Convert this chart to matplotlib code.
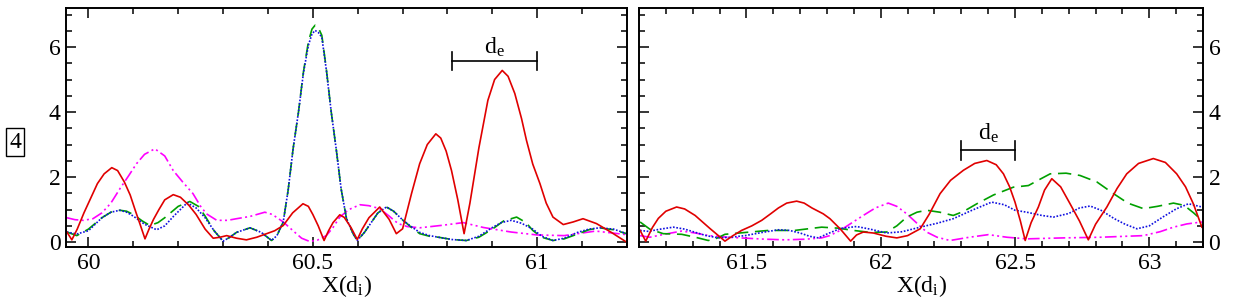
import matplotlib
matplotlib.use("Agg")
import matplotlib.pyplot as plt
from matplotlib.ticker import MultipleLocator, FuncFormatter

plt.rcParams['font.family'] = ['Liberation Serif', 'DejaVu Serif']
plt.rcParams['mathtext.fontset'] = 'custom'
plt.rcParams['mathtext.rm'] = 'Liberation Serif'
plt.rcParams['mathtext.it'] = 'Liberation Serif:italic'

# ---- left panel data ----
red_l_x = [59.952, 59.963, 59.975, 59.99, 60.005, 60.02, 60.035, 60.052, 60.065, 60.08,
           60.093, 60.105, 60.115, 60.126, 60.135, 60.145, 60.157, 60.17, 60.189, 60.205,
           60.224, 60.24, 60.26, 60.278, 60.293, 60.308, 60.33, 60.352, 60.375, 60.397,
           60.415, 60.434, 60.455, 60.478, 60.49, 60.50, 60.512, 60.525, 60.535, 60.545,
           60.56, 60.57, 60.585, 60.599, 60.61, 60.625, 60.649, 60.67, 60.686, 60.70,
           60.72, 60.738, 60.755, 60.774, 60.785, 60.797, 60.809, 60.823, 60.837, 60.85,
           60.87, 60.89, 60.905, 60.922, 60.935, 60.95, 60.965, 60.976, 60.99, 61.006,
           61.02, 61.035, 61.058, 61.08, 61.102, 61.132, 61.165, 61.199]
red_l_y = [0.31, 0.07, 0.4, 0.9, 1.35, 1.8, 2.1, 2.29, 2.2, 1.85,
           1.45, 0.95, 0.55, 0.1, 0.4, 0.7, 1.0, 1.3, 1.46, 1.38,
           1.13, 0.85, 0.4, 0.12, 0.15, 0.2, 0.12, 0.07, 0.15, 0.26,
           0.35, 0.51, 0.9, 1.18, 1.1, 0.85, 0.5, 0.05, 0.35, 0.6,
           0.84, 0.76, 0.45, 0.08, 0.4, 0.75, 1.08, 0.7, 0.26, 0.41,
           1.5, 2.41, 3.0, 3.33, 3.2, 2.8, 2.2, 1.3, 0.26, 1.2,
           2.9, 4.36, 5.0, 5.28, 5.1, 4.57, 3.8, 3.13, 2.4, 1.8,
           1.2, 0.77, 0.54, 0.62, 0.72, 0.57, 0.3, 0.0]

green_l_x = [59.952, 59.974, 60.0, 60.03, 60.05, 60.07, 60.085, 60.1, 60.12, 60.137,
             60.155, 60.17, 60.2, 60.226, 60.245, 60.26, 60.28, 60.30, 60.315, 60.33,
             60.36, 60.385, 60.408, 60.42, 60.434, 60.445, 60.456, 60.468, 60.479, 60.49,
             60.498, 60.505, 60.512, 60.52, 60.53, 60.541, 60.552, 60.563, 60.575, 60.59,
             60.599, 60.615, 60.63, 60.645, 60.664, 60.68, 60.701, 60.72, 60.738, 60.76,
             60.78, 60.81, 60.842, 60.87, 60.9, 60.925, 60.954, 60.975, 60.99, 61.01,
             61.035, 61.06, 61.09, 61.115, 61.139, 61.17, 61.199]
green_l_y = [0.31, 0.2, 0.4, 0.75, 0.92, 0.98, 0.95, 0.85, 0.65, 0.51,
             0.6, 0.75, 1.1, 1.25, 1.1, 0.8, 0.35, 0.03, 0.15, 0.3,
             0.44, 0.3, 0.05, 0.2, 0.62, 1.6, 2.87, 4.0, 5.23, 6.15,
             6.55, 6.67, 6.6, 6.36, 5.33, 4.0, 2.87, 1.64, 0.72, 0.25,
             0.05, 0.3, 0.6, 0.9, 1.08, 0.95, 0.67, 0.45, 0.26, 0.18,
             0.15, 0.08, 0.05, 0.15, 0.4, 0.65, 0.77, 0.6, 0.36, 0.15,
             0.05, 0.1, 0.25, 0.38, 0.44, 0.38, 0.26]

blue_l_x = [59.952, 59.974, 60.0, 60.03, 60.05, 60.07, 60.085, 60.1, 60.125, 60.152,
            60.17, 60.19, 60.22, 60.24, 60.26, 60.28, 60.30, 60.315, 60.33, 60.36,
            60.385, 60.408, 60.42, 60.434, 60.445, 60.456, 60.468, 60.479, 60.49, 60.498,
            60.505, 60.512, 60.52, 60.53, 60.541, 60.552, 60.563, 60.575, 60.59, 60.599,
            60.615, 60.63, 60.645, 60.664, 60.68, 60.701, 60.72, 60.738, 60.76, 60.78,
            60.81, 60.842, 60.87, 60.9, 60.92, 60.942, 60.965, 60.99, 61.01, 61.035,
            61.06, 61.09, 61.115, 61.139, 61.17, 61.199]
blue_l_y = [0.31, 0.25, 0.35, 0.75, 0.92, 0.98, 0.92, 0.8, 0.55, 0.38,
            0.5, 0.8, 1.21, 1.05, 0.75, 0.35, 0.03, 0.15, 0.3, 0.44,
            0.3, 0.05, 0.2, 0.62, 1.6, 2.87, 4.0, 5.2, 6.05, 6.4,
            6.51, 6.45, 6.3, 5.3, 4.0, 2.87, 1.64, 0.72, 0.25, 0.05,
            0.3, 0.6, 0.9, 1.08, 0.95, 0.67, 0.47, 0.3, 0.2, 0.15,
            0.08, 0.05, 0.18, 0.45, 0.6, 0.67, 0.58, 0.4, 0.18, 0.05,
            0.12, 0.3, 0.4, 0.44, 0.4, 0.26]

mag_l_x = [59.952, 59.97, 59.989, 60.01, 60.03, 60.05, 60.07, 60.09, 60.107, 60.125,
           60.148, 60.17, 60.189, 60.21, 60.233, 60.25, 60.263, 60.286, 60.31, 60.33,
           60.36, 60.393, 60.41, 60.434, 60.46, 60.475, 60.493, 60.51, 60.53, 60.545,
           60.56, 60.58, 60.605, 60.625, 60.649, 60.67, 60.69, 60.71, 60.738, 60.79,
           60.835, 60.88, 60.942, 61.0, 61.06, 61.13, 61.199]
mag_l_y = [0.75, 0.69, 0.67, 0.72, 0.9, 1.2, 1.64, 2.05, 2.41, 2.7,
           2.87, 2.65, 2.2, 1.85, 1.49, 1.1, 0.87, 0.67, 0.67, 0.72,
           0.79, 0.92, 0.85, 0.62, 0.3, 0.12, 0.02, 0.06, 0.2, 0.45,
           0.77, 1.0, 1.15, 1.12, 1.03, 0.8, 0.57, 0.48, 0.44, 0.52,
           0.6, 0.45, 0.31, 0.22, 0.2, 0.34, 0.23]

# ---- right panel data ----
red_r_x = [61.104, 61.125, 61.15, 61.172, 61.2, 61.24, 61.27, 61.309, 61.364, 61.42,
           61.45, 61.482, 61.52, 61.557, 61.59, 61.619, 61.65, 61.687, 61.715, 61.744,
           61.786, 61.811, 61.85, 61.888, 61.91, 61.935, 61.973, 62.02, 62.06, 62.1,
           62.147, 62.18, 62.221, 62.26, 62.308, 62.35, 62.395, 62.43, 62.457, 62.48,
           62.5, 62.52, 62.538, 62.56, 62.587, 62.61, 62.637, 62.67, 62.705, 62.74,
           62.773, 62.8, 62.842, 62.88, 62.916, 62.96, 63.015, 63.06, 63.102, 63.135,
           63.164, 63.196]
red_r_y = [0.36, 0.03, 0.45, 0.73, 0.95, 1.08, 1.02, 0.82, 0.42, 0.03,
           0.2, 0.36, 0.5, 0.67, 0.87, 1.05, 1.2, 1.26, 1.2, 1.05,
           0.87, 0.72, 0.4, 0.03, 0.22, 0.31, 0.28, 0.18, 0.13, 0.2,
           0.41, 0.85, 1.49, 1.9, 2.21, 2.42, 2.51, 2.38, 2.1, 1.7,
           1.23, 0.65, 0.05, 0.6, 1.08, 1.6, 1.95, 1.7, 1.18, 0.65,
           0.07, 0.55, 1.08, 1.65, 2.1, 2.42, 2.57, 2.45, 2.1, 1.7,
           1.18, 0.46]

green_r_x = [61.104, 61.14, 61.19, 61.259, 61.31, 61.358, 61.39, 61.42, 61.5, 61.582,
             61.68, 61.78, 61.84, 61.898, 61.96, 62.022, 62.06, 62.097, 62.135, 62.171,
             62.22, 62.27, 62.31, 62.358, 62.42, 62.494, 62.55, 62.59, 62.631, 62.69,
             62.742, 62.805, 62.867, 62.92, 62.978, 63.03, 63.09, 63.13, 63.165, 63.196]
green_r_y = [0.62, 0.4, 0.26, 0.24, 0.15, 0.05, 0.12, 0.24, 0.3, 0.36,
             0.36, 0.46, 0.43, 0.36, 0.3, 0.31, 0.5, 0.77, 0.92, 0.98,
             0.92, 0.82, 0.95, 1.18, 1.45, 1.69, 1.74, 1.92, 2.1, 2.12,
             2.05, 1.85, 1.49, 1.2, 1.03, 1.1, 1.2, 1.13, 0.9, 0.67]

blue_r_x = [61.104, 61.135, 61.18, 61.228, 61.27, 61.31, 61.35, 61.395, 61.44, 61.495,
            61.56, 61.619, 61.66, 61.7, 61.735, 61.768, 61.8, 61.85, 61.91, 61.96,
            62.022, 62.08, 62.147, 62.21, 62.27, 62.34, 62.413, 62.46, 62.5, 62.544,
            62.6, 62.643, 62.7, 62.74, 62.78, 62.82, 62.87, 62.91, 62.954, 63.0,
            63.05, 63.1, 63.146, 63.196]
blue_r_y = [0.36, 0.33, 0.4, 0.46, 0.4, 0.3, 0.2, 0.13, 0.15, 0.2,
            0.3, 0.38, 0.36, 0.28, 0.18, 0.13, 0.25, 0.42, 0.48, 0.4,
            0.28, 0.32, 0.46, 0.58, 0.72, 0.98, 1.23, 1.15, 0.98, 0.92,
            0.82, 0.77, 0.88, 1.05, 1.11, 0.98, 0.72, 0.55, 0.41, 0.5,
            0.77, 1.02, 1.18, 1.08]

mag_r_x = [61.104, 61.14, 61.2, 61.259, 61.31, 61.36, 61.43, 61.5, 61.57, 61.644,
           61.72, 61.78, 61.81, 61.849, 61.89, 61.935, 61.98, 62.028, 62.06, 62.097,
           62.135, 62.171, 62.21, 62.258, 62.33, 62.401, 62.47, 62.544, 62.68, 62.817,
           62.978, 63.04, 63.09, 63.14, 63.196]
mag_r_y = [0.2, 0.15, 0.25, 0.34, 0.28, 0.2, 0.15, 0.12, 0.09, 0.07,
           0.09, 0.13, 0.2, 0.36, 0.58, 0.82, 1.05, 1.2, 1.1, 0.87,
           0.58, 0.31, 0.15, 0.05, 0.15, 0.23, 0.15, 0.1, 0.13, 0.15,
           0.2, 0.32, 0.46, 0.56, 0.62]

# d_e scale bars: (x0, x1, y_bar, y_text)
de_left = (60.81, 61.0, 5.56, 6.0)
de_right = (62.3, 62.5, 2.82, 3.34)

fig = plt.figure(figsize=(12.36, 3.05), dpi=100)
ax1 = fig.add_axes([66 / 1236, 1 - 247 / 305, 561 / 1236, 239 / 305])
ax2 = fig.add_axes([639 / 1236, 1 - 247 / 305, 564 / 1236, 239 / 305])

lw = 1.2
for ax, rx, ry, gx, gy, bx, by, mx, my in [
        (ax1, red_l_x, red_l_y, green_l_x, green_l_y, blue_l_x, blue_l_y, mag_l_x, mag_l_y),
        (ax2, red_r_x, red_r_y, green_r_x, green_r_y, blue_r_x, blue_r_y, mag_r_x, mag_r_y)]:
    ax.plot(mx, my, color='#ff00ff', lw=lw, dashes=[7, 2, 1.2, 2, 1.2, 2])
    ax.plot(gx, gy, color='#00a000', lw=lw, dashes=[8, 4])
    ax.plot(bx, by, color='#1010e0', lw=lw, dashes=[1, 1])
    ax.plot(rx, ry, color='#e00000', lw=lw)

    ax.set_ylim(-0.15, 7.2)
    ax.yaxis.set_major_locator(MultipleLocator(2))
    ax.yaxis.set_minor_locator(MultipleLocator(0.5))
    ax.xaxis.set_major_locator(MultipleLocator(0.5))
    ax.xaxis.set_minor_locator(MultipleLocator(0.1))
    ax.xaxis.set_major_formatter(FuncFormatter(lambda v, p: f'{v:g}'))
    ax.tick_params(which='both', direction='in', top=True, right=True,
                   labelsize=17, width=1.1)
    ax.tick_params(which='major', length=7, pad=4)
    ax.tick_params(which='minor', length=4)
    for s in ax.spines.values():
        s.set_linewidth(1.4)
    ax.set_xlabel(r'X(d$_\mathrm{i}$)', fontsize=17, labelpad=0)

ax1.set_xlim(59.95, 61.2)
ax2.set_xlim(61.1, 63.2)
ax2.tick_params(which='both', labelleft=False, labelright=True)

for ax, (x0, x1, yb, yt) in [(ax1, de_left), (ax2, de_right)]:
    ax.plot([x0, x1], [yb, yb], color='black', lw=1.2)
    ax.plot([x0, x0], [yb - 0.28, yb + 0.28], color='black', lw=1.2)
    ax.plot([x1, x1], [yb - 0.28, yb + 0.28], color='black', lw=1.2)
    ax.text((x0 + x1) / 2, yt, r'd$_\mathrm{e}$', ha='center', va='center', fontsize=17)

fig.text(15 / 1236, 1 - 142 / 305, '4', ha='center', va='center', fontsize=17,
         bbox=dict(boxstyle='square,pad=0.15', fc='white', ec='black', lw=1.0))

fig.savefig('out.png', dpi=100)
